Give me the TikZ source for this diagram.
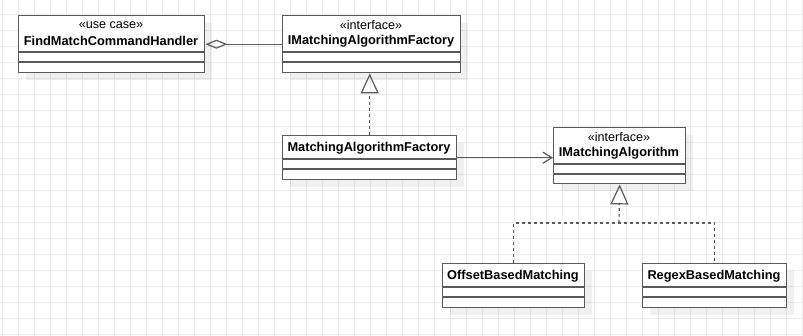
\documentclass[tikz,border=0pt]{standalone}
\usepackage{fontspec}
\setmainfont{Liberation Sans}
\usepackage{tikz}
\usetikzlibrary{arrows.meta,shadows}
\usepackage{xcolor}
\definecolor{umlline}{HTML}{5A5A5A}
\definecolor{gridcol}{HTML}{ECECEC}
\tikzset{
  gridline/.style={gridcol, line width=1pt},
  classbox/.style={draw=umlline, fill=white, line width=1.4pt, anchor=north west,
    inner sep=0pt, drop shadow={shadow xshift=7pt, shadow yshift=-7pt, fill=black, opacity=0.06}},
  sep/.style={draw=umlline, line width=1.4pt},
  stereo/.style={inner sep=0pt, font=\fontsize{12.6}{14}\selectfont},
  cname/.style={inner sep=0pt, font=\fontsize{12.8}{15}\selectfont\bfseries},
  link/.style={umlline, line width=1.2pt},
  realize/.style={link, dash pattern=on 3pt off 3pt},
  hollow tri/.style={-{Triangle[open, length=20pt, width=18pt, line width=1.2pt]}}
}

\begin{document}
\begin{tikzpicture}[x=1pt, y=-1pt]
\useasboundingbox (0,0) rectangle (803,336);
\fill[white] (0,0) rectangle (803,336);
% background grid
\foreach \x in {2,18,...,802}
  \draw[gridline] (\x,0) -- (\x,336);
\foreach \y in {15,31,...,335}
  \draw[gridline] (0,\y) -- (803,\y);

% classes
\node[classbox, minimum width=186pt, minimum height=57pt] (handler) at (18,15) {};
\node[stereo] (handler-st) at (111,25) {«use case»};
\node[cname] (handler-nm) at (111,41) {FindMatchCommandHandler};
\draw[sep] (18,52) -- (204,52) (18,62) -- (204,62);

\node[classbox, minimum width=178pt, minimum height=57pt] (ifactory) at (282,15) {};
\node[stereo] (ifactory-st) at (371,25) {«interface»};
\node[cname] (ifactory-nm) at (371,41) {IMatchingAlgorithmFactory};
\draw[sep] (282,52) -- (460,52) (282,62) -- (460,62);

\node[classbox, minimum width=174pt, minimum height=44pt] (factory) at (282,135) {};
\node[cname] (factory-nm) at (369,148) {MatchingAlgorithmFactory};
\draw[sep] (282,159) -- (456,159) (282,169) -- (456,169);

\node[classbox, minimum width=132pt, minimum height=56pt] (ialgo) at (553,127) {};
\node[stereo] (ialgo-st) at (619,137) {«interface»};
\node[cname] (ialgo-nm) at (619,153) {IMatchingAlgorithm};
\draw[sep] (553,164) -- (685,164) (553,174) -- (685,174);

\node[classbox, minimum width=142pt, minimum height=44pt] (offset) at (442,263) {};
\node[cname] (offset-nm) at (513,276) {OffsetBasedMatching};
\draw[sep] (442,287) -- (584,287) (442,297) -- (584,297);

\node[classbox, minimum width=144pt, minimum height=44pt] (regex) at (642,263) {};
\node[cname] (regex-nm) at (714,276) {RegexBasedMatching};
\draw[sep] (642,287) -- (786,287) (642,297) -- (786,297);

% relations
\draw[link, -{Diamond[open, length=22pt, width=9pt, line width=1.2pt]}] (ifactory.west) -- (handler.east);
\draw[realize, hollow tri] (factory.north) -- (factory.north |- ifactory.south);
\draw[link, -{Straight Barb[length=9pt, width=11pt, line width=1.2pt]}] (factory.east) -- (factory.east -| ialgo.west);
\coordinate (merge) at (619,223);
\draw[realize] (offset.north) |- (merge) -| (regex.north);
\draw[realize, hollow tri] (merge) -- (ialgo.south);
\end{tikzpicture}
\end{document}
